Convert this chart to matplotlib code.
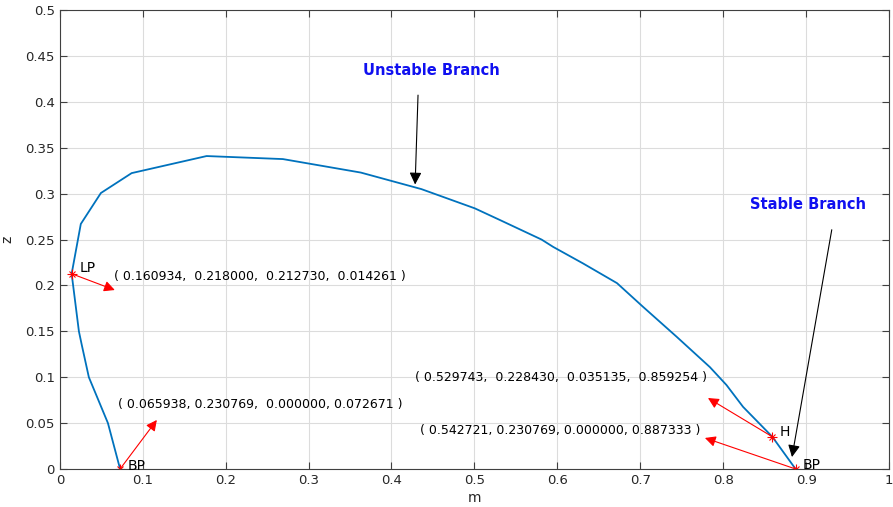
import numpy as np
import matplotlib
matplotlib.use('Agg')
import matplotlib.pyplot as plt
from matplotlib.ticker import FormatStrFormatter, MultipleLocator

# continuation curve (m, z)
m = [0.072671, 0.058, 0.035, 0.0265, 0.023, 0.014261, 0.0253, 0.0495,
     0.0866, 0.177, 0.269, 0.363, 0.436, 0.5005, 0.531, 0.581, 0.595, 0.631,
     0.672, 0.703, 0.744, 0.784, 0.804, 0.824, 0.859254, 0.887333]
z = [0.0, 0.05, 0.10, 0.135, 0.15, 0.21273, 0.267, 0.3007,
     0.3224, 0.341, 0.3377, 0.323, 0.305, 0.284, 0.2712, 0.25, 0.242, 0.224,
     0.2025, 0.177, 0.144, 0.111, 0.0915, 0.0677, 0.035135, 0.0]

# special points
pt_names = ['LP', 'BP', 'H', 'BP']
pt_m = [0.014261, 0.072671, 0.859254, 0.887333]
pt_z = [0.212730, 0.0, 0.035135, 0.0]
pt_text = ['( 0.160934,  0.218000,  0.212730,  0.014261 )',
           '( 0.065938, 0.230769,  0.000000, 0.072671 )',
           '( 0.529743,  0.228430,  0.035135,  0.859254 )',
           '( 0.542721, 0.230769, 0.000000, 0.887333 )']
arrow_end = [(0.0663, 0.195), (0.117, 0.0534), (0.7817, 0.0773), (0.778, 0.0338)]
text_pos = [(0.065, 0.21), (0.070, 0.0708), (0.428, 0.1002), (0.434, 0.0414)]
name_pos = [(0.024, 0.219), (0.082, 0.003), (0.8685, 0.040), (0.896, 0.004)]

plt.rcParams['font.family'] = ['DejaVu Sans']

fig = plt.figure(figsize=(8.93, 5.07), dpi=100)
ax = fig.add_axes([0.067, 0.075, 0.9285, 0.905])

ax.plot(m, z, color='#0072BD', lw=1.3)
# matlab style asterisk = plus + cross
ax.plot(pt_m, pt_z, '+', color='red', ms=7, mew=0.8, linestyle='none')
ax.plot(pt_m, pt_z, 'x', color='red', ms=5, mew=0.8, linestyle='none')

for i in range(4):
    ax.annotate('', xy=arrow_end[i], xytext=(pt_m[i], pt_z[i]),
                arrowprops=dict(arrowstyle='-|>', color='red', lw=0.8,
                                mutation_scale=16, shrinkA=0, shrinkB=0))
    ax.text(text_pos[i][0], text_pos[i][1], pt_text[i], fontsize=9, va='center', ha='left')
    ax.text(name_pos[i][0], name_pos[i][1], pt_names[i], fontsize=10, va='center', ha='left')

# branch labels
ax.annotate('', xy=(0.4285, 0.310), xytext=(0.432, 0.4074),
            arrowprops=dict(arrowstyle='-|>', color='black', lw=0.8,
                            mutation_scale=18, shrinkA=0, shrinkB=0))
ax.annotate('', xy=(0.883, 0.013), xytext=(0.931, 0.2607),
            arrowprops=dict(arrowstyle='-|>', color='black', lw=0.8,
                            mutation_scale=18, shrinkA=0, shrinkB=0))
ax.text(0.4478, 0.4339, 'Unstable Branch', color='#1010f0', fontsize=10.5,
        fontweight='bold', ha='center', va='center')
ax.text(0.902, 0.2883, 'Stable Branch', color='#1010f0', fontsize=10.5,
        fontweight='bold', ha='center', va='center')

ax.set_xlim(0, 1)
ax.set_ylim(0, 0.5)
ax.xaxis.set_major_locator(MultipleLocator(0.1))
ax.yaxis.set_major_locator(MultipleLocator(0.05))
ax.xaxis.set_major_formatter(FormatStrFormatter('%g'))
ax.yaxis.set_major_formatter(FormatStrFormatter('%g'))
ax.grid(True, color='#dcdcdc', lw=0.8)
ax.set_axisbelow(True)
ax.tick_params(direction='in', top=True, right=True, length=5, labelsize=9.5,
               color='#404040', labelcolor='#262626')
for s in ax.spines.values():
    s.set_color('#404040')
    s.set_linewidth(0.8)
ax.set_xlabel('m', fontsize=10, color='#262626', labelpad=3)
ax.set_ylabel('z', fontsize=10, color='#262626', labelpad=8)

fig.savefig('out.png', dpi=100)
